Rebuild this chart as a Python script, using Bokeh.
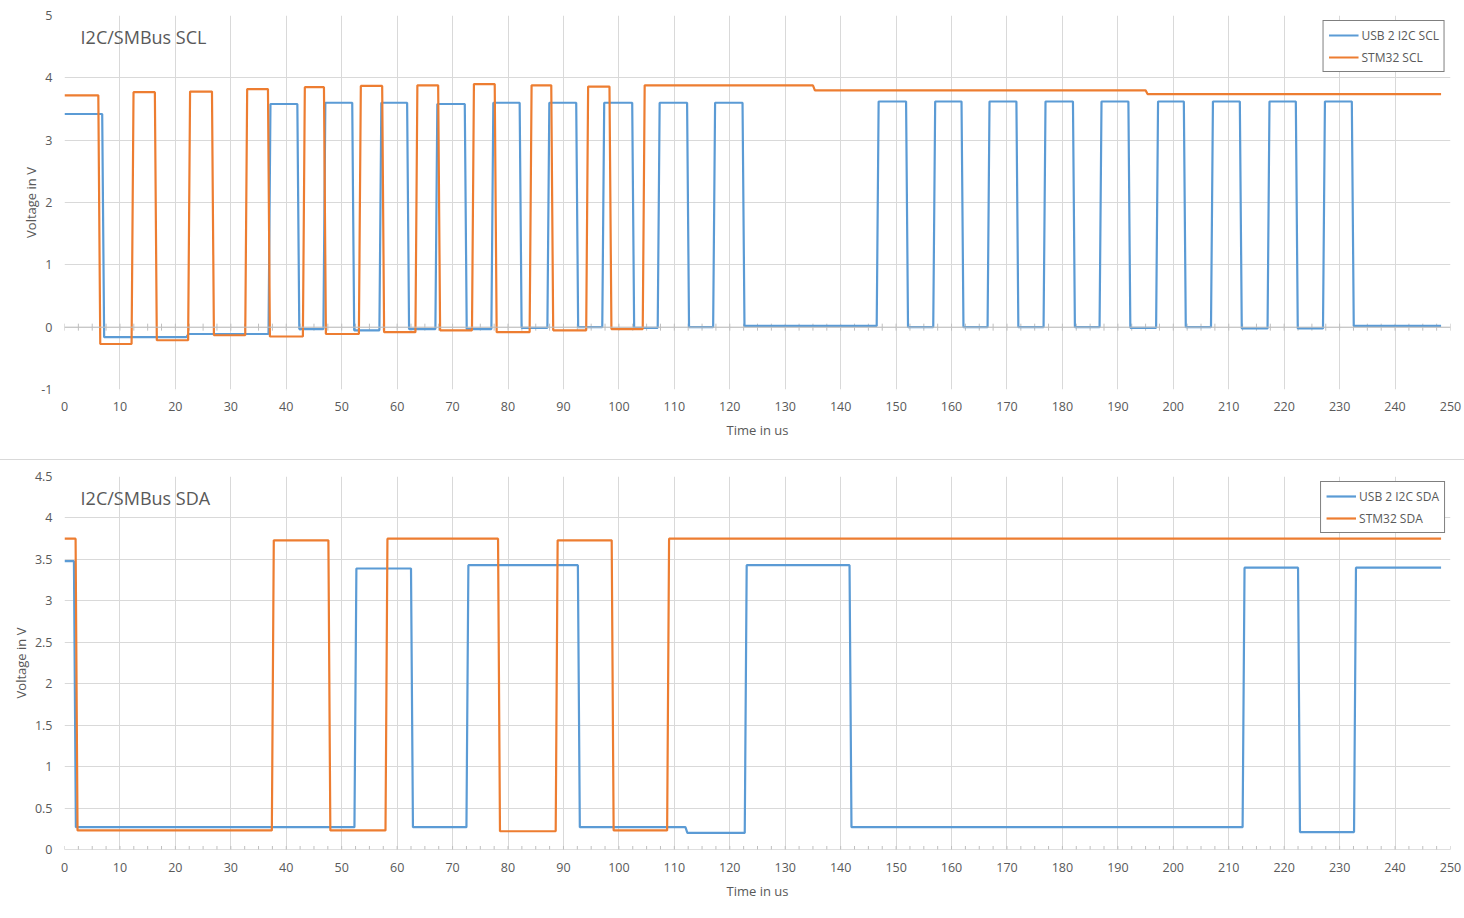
import numpy as np
from bokeh.plotting import figure
from bokeh.models import Range1d, FixedTicker, Label, Legend, LegendItem, Span
from bokeh.layouts import column
from bokeh.embed import file_html
from bokeh.resources import INLINE
from bokeh.core.properties import value

# ---------------- data ----------------
T_END = 248.3          # last sample, us
RISE = 0.35            # edge duration, us

# SCL: transition times (us) and the level (V) of every segment between them
scl_usb_edges = [6.8, 22.0, 36.8, 42.0, 46.7, 51.9, 56.8, 61.8, 66.9, 72.2, 77.0, 82.1,
                 87.1, 92.3, 97.0, 102.4, 107.0, 112.3, 117.0, 122.3, 146.5, 151.8,
                 156.7, 161.8, 166.5, 171.7, 176.6, 181.9, 186.7, 191.9, 196.9, 201.9,
                 206.8, 212.0, 217.0, 222.1, 227.0, 232.2]
scl_usb_levels = [3.42, -0.16, -0.11,
                  3.58, -0.03, 3.60, -0.05, 3.60, -0.03, 3.58, -0.03, 3.60, -0.01,
                  3.60, 0.00, 3.60, -0.01, 3.60, 0.00, 3.60, 0.02,
                  3.62, 0.00, 3.62, 0.00, 3.62, 0.00, 3.62, 0.00, 3.62, -0.01,
                  3.62, 0.00, 3.62, -0.02, 3.62, -0.02, 3.62, 0.02]

scl_stm_edges = [6.1, 12.1, 16.3, 22.3, 26.6, 32.6, 36.7, 43.0, 46.8, 53.1, 57.3, 63.3,
                 67.4, 73.5, 77.6, 83.9, 87.8, 94.1, 98.3, 104.3, 135.0, 195.0]
scl_stm_levels = [3.72, -0.27, 3.77, -0.21, 3.78, -0.13, 3.82, -0.15, 3.85, -0.11, 3.87,
                  -0.08, 3.88, -0.05, 3.90, -0.08, 3.88, -0.05, 3.86, -0.03, 3.88, 3.80, 3.74]

# SDA
sda_usb_edges = [1.7, 52.3, 62.5, 72.5, 92.6, 112.0, 122.7, 141.6, 212.5, 222.5, 232.6]
sda_usb_levels = [3.48, 0.27, 3.39, 0.27, 3.43, 0.27, 0.20, 3.43, 0.27, 3.40, 0.21, 3.40]

sda_stm_edges = [2.0, 37.4, 47.6, 57.9, 78.2, 88.6, 98.7, 108.7]
sda_stm_levels = [3.75, 0.23, 3.73, 0.23, 3.75, 0.22, 3.73, 0.23, 3.75]

x_ticks = list(range(0, 251, 10))
scl_y_ticks = [-1, 0, 1, 2, 3, 4, 5]
scl_y_labels = ["-1", "0", "1", "2", "3", "4", "5"]
sda_y_ticks = [0, 0.5, 1, 1.5, 2, 2.5, 3, 3.5, 4, 4.5]
sda_y_labels = ["0", "0.5", "1", "1.5", "2", "2.5", "3", "3.5", "4", "4.5"]
minor_step = 2.5

BLUE = "#5B9BD5"
ORANGE = "#ED7D31"
TXT = "#595959"
GRID = "#D9D9D9"
AXIS = "#BFBFBF"
FONT = "Open Sans"


def steps(edges, levels):
    xs, ys = [0.0], [levels[0]]
    for e, a, b in zip(edges, levels[:-1], levels[1:]):
        xs += [e, e + RISE]
        ys += [a, b]
    xs.append(T_END)
    ys.append(levels[-1])
    return xs, ys


def make_chart(title, y_lo, y_hi, y_ticks, y_labels, series, names,
               height, b_top, b_bottom, title_y, ylab_standoff, xtick_standoff):
    p = figure(width=1464, height=height, output_backend="svg", toolbar_location=None,
               x_range=Range1d(0, 250), y_range=Range1d(y_lo, y_hi),
               min_border_left=64, min_border_right=14,
               min_border_top=b_top, min_border_bottom=b_bottom)
    p.outline_line_color = None
    p.background_fill_color = "white"
    p.border_fill_color = "white"

    p.xaxis.ticker = FixedTicker(ticks=x_ticks)
    p.yaxis.ticker = FixedTicker(ticks=y_ticks)
    p.yaxis.major_label_overrides = dict(zip(y_ticks, y_labels))
    for ax in (p.xaxis[0], p.yaxis[0]):
        ax.axis_line_color = None
        ax.major_tick_line_color = None
        ax.minor_tick_line_color = None
        ax.major_tick_out = 0
        ax.major_tick_in = 0
        ax.major_label_text_font = FONT
        ax.major_label_text_font_size = "12.5px"
        ax.major_label_text_color = TXT
        ax.axis_label_text_font = FONT
        ax.axis_label_text_font_size = "13px"
        ax.axis_label_text_font_style = "normal"
        ax.axis_label_text_color = TXT
    p.xaxis.major_label_standoff = xtick_standoff
    p.yaxis.major_label_standoff = 12
    p.xaxis.axis_label = "Time in us"
    p.yaxis.axis_label = "Voltage in V"
    p.xaxis.axis_label_standoff = 7
    p.yaxis.axis_label_standoff = ylab_standoff

    p.xgrid.grid_line_color = GRID
    p.ygrid.grid_line_color = GRID
    p.xgrid.grid_line_width = 1
    p.ygrid.grid_line_width = 1

    # horizontal axis crossing at 0 V with its small tick marks
    p.add_layout(Span(location=0, dimension="width", line_color=AXIS, line_width=1))
    minor = np.arange(0, 250 + minor_step / 2, minor_step)
    p.scatter(x=minor, y=np.zeros_like(minor), marker="dash", angle=np.pi / 2,
              size=7, line_color=AXIS, line_width=1)

    items = []
    for (edges, levels), color, name in zip(series, (BLUE, ORANGE), names):
        xs, ys = steps(edges, levels)
        r = p.line(xs, ys, line_color=color, line_width=2.2)
        items.append(LegendItem(label=name, renderers=[r]))

    leg = Legend(items=items, location="top_right")
    leg.border_line_color = "black"
    leg.border_line_width = 1.2
    leg.background_fill_color = "white"
    leg.background_fill_alpha = 1
    leg.label_text_font = FONT
    leg.label_text_font_size = "12px"
    leg.label_text_color = TXT
    leg.glyph_width = 30
    leg.glyph_height = 18
    leg.label_height = 18
    leg.label_standoff = 3
    leg.spacing = 4
    leg.padding = 5
    leg.margin = 5
    p.add_layout(leg)

    p.add_layout(Label(x=2.9, y=title_y, text=title, text_font=FONT,
                       text_font_size="18px", text_color=TXT,
                       text_baseline="middle", text_align="left"))
    return p


p1 = make_chart("I2C/SMBus SCL", -1, 5, scl_y_ticks, scl_y_labels,
                [(scl_usb_edges, scl_usb_levels), (scl_stm_edges, scl_stm_levels)],
                ["USB 2 I2C SCL", "STM32 SCL"],
                height=459, b_top=15, b_bottom=70, title_y=4.65,
                ylab_standoff=-2, xtick_standoff=12)

p2 = make_chart("I2C/SMBus SDA", 0, 4.5, sda_y_ticks, sda_y_labels,
                [(sda_usb_edges, sda_usb_levels), (sda_stm_edges, sda_stm_levels)],
                ["USB 2 I2C SDA", "STM32 SDA"],
                height=458, b_top=16, b_bottom=69, title_y=4.235,
                ylab_standoff=2, xtick_standoff=13)
p2.styles = {"border-top": "1px solid #D9D9D9"}

layout = column(p1, p2, spacing=0)
open("out.html", "w").write(file_html(layout, INLINE))
